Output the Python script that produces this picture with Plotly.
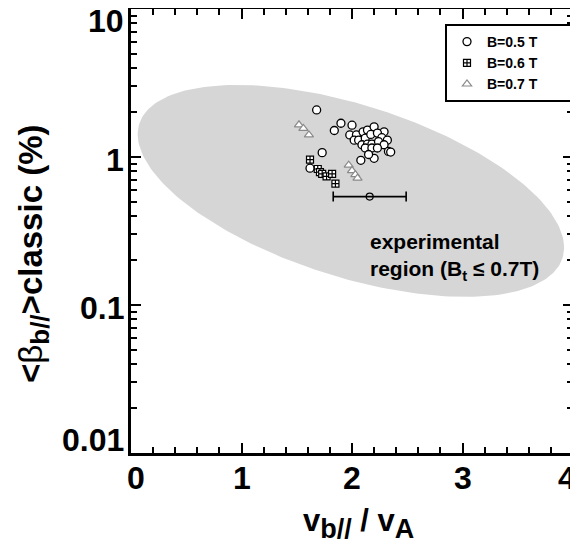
import numpy as np
import plotly.graph_objects as go

# ---- data ----
circ_x = [1.68, 1.90, 1.84, 1.73, 2.08, 2.20, 1.62, 2.00, 1.98, 2.04, 2.10, 2.14, 2.20, 2.29,
          2.02, 2.06, 2.12, 2.17, 2.23, 2.27, 2.32, 2.09, 2.14, 2.18, 2.24, 2.29, 2.12, 2.18,
          2.23, 2.33, 2.15, 2.35]
circ_y = [2.08, 1.69, 1.51, 1.07, 0.95, 0.98, 0.84, 1.64, 1.41, 1.41, 1.48, 1.52, 1.60, 1.48,
          1.30, 1.30, 1.34, 1.42, 1.45, 1.35, 1.30, 1.21, 1.22, 1.22, 1.27, 1.21, 1.15, 1.15,
          1.15, 1.09, 1.04, 1.08]
sq_x = [1.62, 1.69, 1.71, 1.73, 1.77, 1.82, 1.85]
sq_y = [0.96, 0.83, 0.79, 0.77, 0.74, 0.77, 0.66]
tri_x = [1.52, 1.56, 1.61, 1.97, 2.00, 2.03, 2.05]
tri_y = [1.65, 1.56, 1.41, 0.88, 0.81, 0.76, 0.72]
err_x = [2.16]
err_y = [0.54]
err_dx = [0.33]

series_names = ["B=0.5 T", "B=0.6 T", "B=0.7 T"]
x_tick_vals = [0, 1, 2, 3, 4]
x_tick_text = ["0", "1", "2", "3", "4"]
x_tick_shift = [5, 0, 0, 0, -6]
y_tick_vals = [0.01, 0.1, 1, 10]
y_tick_text = ["0.01", "0.1", "1", "10"]
y_tick_shift = [13, -3, -3, -12]

# experimental region ellipse (center in data units, axes in screen pixels)
ell_cx, ell_cy = 1.99, 0.59
ell_a_px, ell_b_px, ell_angle_deg = 222, 86, 17.6

# the page body has an 8px margin: lay the figure out in window pixels minus that offset
OFF = 8
WIN_W, WIN_H = 578, 544
FRAME_L, FRAME_R, FRAME_T, FRAME_B = 131, 573, 9, 453  # window pixels
W, H = WIN_W - OFF, WIN_H - OFF
ML = FRAME_L - OFF
MT = FRAME_T - OFF
MR = W - (FRAME_R - OFF)
MB = H - (FRAME_B - OFF)
XR = [0, 4]
YR = [-2, 1]
pw, ph = W - ML - MR, H - MT - MB
px_per_x = pw / (XR[1] - XR[0])
px_per_dec = ph / (YR[1] - YR[0])

t = np.linspace(0, 2 * np.pi, 241)
th = np.radians(ell_angle_deg)
dx_px = ell_a_px * np.cos(t) * np.cos(th) - ell_b_px * np.sin(t) * np.sin(th)
dy_px = ell_a_px * np.cos(t) * np.sin(th) + ell_b_px * np.sin(t) * np.cos(th)
ell_x = ell_cx + dx_px / px_per_x
ell_y = 10 ** (np.log10(ell_cy) - dy_px / px_per_dec)

FONT = "Liberation Sans, Arial, Helvetica, sans-serif"


def px_to_paper_x(px):
    return (px - FRAME_L) / pw


def px_to_paper_y(py):
    return 1 - (py - FRAME_T) / ph


fig = go.Figure()
fig.add_trace(go.Scatter(x=ell_x, y=ell_y, mode="lines", fill="toself",
                         fillcolor="#d6d6d6", line=dict(width=0), showlegend=False,
                         hoverinfo="skip"))
fig.add_trace(go.Scatter(x=err_x, y=err_y, mode="markers", showlegend=False,
                         marker=dict(symbol="circle-open", size=7, color="black",
                                     line=dict(width=1.2)),
                         error_x=dict(type="data", array=err_dx, color="black",
                                      thickness=1.6, width=5)))
PAD = "&nbsp;" * 8
fig.add_trace(go.Scatter(x=sq_x, y=sq_y, mode="markers", name=series_names[1] + PAD,
                         legendrank=2,
                         marker=dict(symbol="square-cross", size=7, color="white",
                                     line=dict(color="black", width=1.2))))
fig.add_trace(go.Scatter(x=tri_x, y=tri_y, mode="markers", name=series_names[2] + PAD,
                         legendrank=3,
                         marker=dict(symbol="triangle-up", size=8, color="white",
                                     line=dict(color="#8a8a8a", width=1.2))))
fig.add_trace(go.Scatter(x=circ_x, y=circ_y, mode="markers", name=series_names[0] + PAD,
                         legendrank=1,
                         marker=dict(symbol="circle", size=8, color="white",
                                     line=dict(color="black", width=1.3))))

annotations = []
for v, txt, sh in zip(y_tick_vals, y_tick_text, y_tick_shift):
    annotations.append(dict(x=0, xref="paper", y=np.log10(v), yref="y", text=txt,
                            showarrow=False, xanchor="right", yanchor="middle",
                            xshift=-5, yshift=sh,
                            font=dict(family=FONT, size=32, color="black", weight="bold")))
for v, txt, sh in zip(x_tick_vals, x_tick_text, x_tick_shift):
    annotations.append(dict(x=v, xref="x", y=0, yref="paper", text=txt,
                            showarrow=False, xanchor="center", yanchor="middle",
                            xshift=sh, yshift=-25,
                            font=dict(family=FONT, size=32, color="black", weight="bold")))
annotations.append(dict(x=2.145, y=np.log10(0.21), xref="x", yref="y",
                        text="experimental<br>region (B<sub>t</sub> ≤ 0.7T)",
                        showarrow=False, xanchor="left", yanchor="middle", align="left",
                        font=dict(family=FONT, size=21, color="black", weight="bold")))
annotations.append(dict(x=px_to_paper_x(358), y=px_to_paper_y(523), xref="paper", yref="paper",
                        text="v<sub><span style='font-size:27px'>b//</span></sub> / "
                             "v<sub><span style='font-size:27px'>A</span></sub>",
                        showarrow=False, xanchor="center", yanchor="middle",
                        font=dict(family=FONT, size=31, color="black", weight="bold")))
annotations.append(dict(x=px_to_paper_x(33), y=px_to_paper_y(254), xref="paper", yref="paper",
                        text="<b>&lt;</b><span style='font-weight:normal'>β</span>"
                             "<b><sub><span style='font-size:26px'>b//</span></sub>&gt;classic (%)</b>",
                        textangle=-90, showarrow=False, xanchor="center", yanchor="middle",
                        font=dict(family=FONT, size=33, color="black")))

minor_y = [m * 10 ** e for e in range(-2, 1) for m in range(2, 10)]

# legend drop shadow
shapes = [dict(type="rect", xref="paper", yref="paper",
               x0=px_to_paper_x(449), x1=px_to_paper_x(570),
               y0=px_to_paper_y(98), y1=px_to_paper_y(29),
               fillcolor="black", line=dict(width=0), layer="above")]

fig.update_layout(
    width=W, height=H, margin=dict(l=ML, r=MR, t=MT, b=MB, autoexpand=False),
    paper_bgcolor="white", plot_bgcolor="white",
    font=dict(family=FONT, color="black"),
    showlegend=True,
    legend=dict(x=px_to_paper_x(445), y=px_to_paper_y(24), xanchor="left", yanchor="top",
                bgcolor="white", bordercolor="black", borderwidth=2,
                font=dict(family=FONT, size=14, color="black", weight="bold"),
                traceorder="normal", tracegroupgap=0, itemwidth=30),
    xaxis=dict(range=XR, tickvals=x_tick_vals, showticklabels=False, automargin=False,
               ticks="inside", ticklen=10, tickwidth=2,
               tickcolor="black", showline=True, linewidth=3, linecolor="black",
               mirror="allticks", showgrid=False, zeroline=False,
               minor=dict(dtick=0.2, ticks="inside", ticklen=6, tickwidth=2,
                          tickcolor="black", showgrid=False)),
    yaxis=dict(type="log", range=YR, tickvals=y_tick_vals, showticklabels=False,
               automargin=False,
               ticks="inside", ticklen=10, tickwidth=2, tickcolor="black",
               showline=True, linewidth=3, linecolor="black", mirror="allticks",
               showgrid=False, zeroline=False,
               minor=dict(tickvals=minor_y, ticks="inside", ticklen=6, tickwidth=2,
                          tickcolor="black", showgrid=False)),
    annotations=annotations,
    shapes=shapes,
)

fig.write_html("out.html")
